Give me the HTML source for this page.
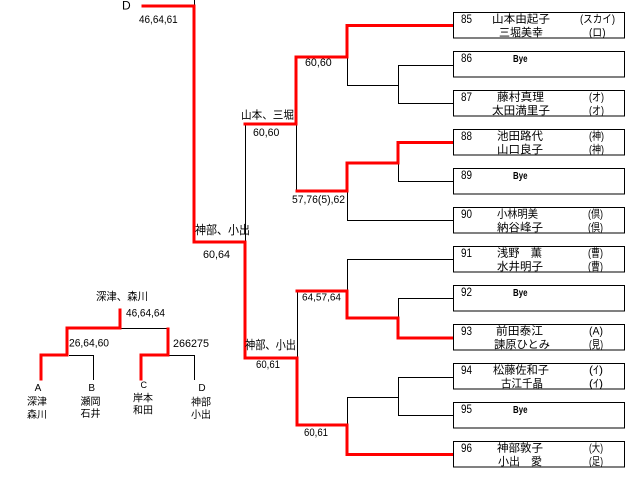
<!DOCTYPE html>
<html>
<head>
<meta charset="utf-8">
<style>
html,body{margin:0;padding:0;background:#fff;}
svg{display:block;}
text{font-family:"Liberation Sans","Noto Sans CJK JP",sans-serif;fill:#000;}
.j{font-family:"Liberation Sans","Noto Sans CJK JP",sans-serif;}
</style>
</head>
<body>
<svg width="640" height="482" viewBox="0 0 640 482" xmlns="http://www.w3.org/2000/svg">
<rect x="0" y="0" width="640" height="482" fill="#fff"/>

<!-- black connector lines -->
<g stroke="#000" stroke-width="1" fill="none" shape-rendering="crispEdges">
  <path d="M194.5,0 V6"/>
  <path d="M245.5,124 V242"/>
  <path d="M296.5,124 V191"/>
  <path d="M347.5,57 V85.5 H398"/>
  <path d="M398.5,65 V103.5"/>
  <path d="M398,65.5 H453"/>
  <path d="M398,103.5 H453"/>
  <path d="M398.5,163 V181.5 H453"/>
  <path d="M347.5,191 V220.5 H453"/>
  <path d="M297.5,291 V358"/>
  <path d="M347.5,291 V259.5 H453"/>
  <path d="M398.5,318 V298.5 H453"/>
  <path d="M347.5,425 V397.5 H398"/>
  <path d="M398.5,377 V416"/>
  <path d="M398,377.5 H453"/>
  <path d="M398,415.5 H453"/>
  <!-- left mini bracket -->
  <path d="M120,328.5 H168"/>
  <path d="M69,355.5 H93.5 V380"/>
  <path d="M168,355.5 H194.5 V380"/>
</g>

<!-- red winner lines -->
<g stroke="#ff0000" stroke-width="3" fill="none" stroke-linejoin="miter" stroke-linecap="square">
  <path d="M143,6 H194 V242 H245 V358 H297 V425 H347 V454.5 H452"/>
  <path d="M245,124 H296 V57 H347 V25.5 H452"/>
  <path d="M297,191 H347 V163 H398 V142.5 H452"/>
  <path d="M297,291 H347 V318 H398 V338 H452"/>
  <path d="M120,310 V328 H67 V355 H41 V379"/>
  <path d="M168,329 V355 H141 V379"/>
</g>

<!-- boxes -->
<g stroke="#000" stroke-width="1" fill="#fff" shape-rendering="crispEdges">
  <rect x="453.5" y="12.5" width="171" height="25.5"/>
  <rect x="453.5" y="51.5" width="171" height="25.5"/>
  <rect x="453.5" y="90.5" width="171" height="25.5"/>
  <rect x="453.5" y="129.5" width="171" height="25.5"/>
  <rect x="453.5" y="168.5" width="171" height="25.5"/>
  <rect x="453.5" y="207.5" width="171" height="25.5"/>
  <rect x="453.5" y="246.5" width="171" height="25.5"/>
  <rect x="453.5" y="285.5" width="171" height="25.5"/>
  <rect x="453.5" y="324.5" width="171" height="25.5"/>
  <rect x="453.5" y="363.5" width="171" height="25.5"/>
  <rect x="453.5" y="402.5" width="171" height="25.5"/>
  <rect x="453.5" y="441.5" width="171" height="25.5"/>
</g>

<!-- box numbers -->
<g font-size="12">
  <text x="461" y="23" textLength="11" lengthAdjust="spacingAndGlyphs">85</text>
  <text x="461" y="62" textLength="11" lengthAdjust="spacingAndGlyphs">86</text>
  <text x="461" y="101" textLength="11" lengthAdjust="spacingAndGlyphs">87</text>
  <text x="461" y="140" textLength="11" lengthAdjust="spacingAndGlyphs">88</text>
  <text x="461" y="179" textLength="11" lengthAdjust="spacingAndGlyphs">89</text>
  <text x="461" y="218" textLength="11" lengthAdjust="spacingAndGlyphs">90</text>
  <text x="461" y="257" textLength="11" lengthAdjust="spacingAndGlyphs">91</text>
  <text x="461" y="296" textLength="11" lengthAdjust="spacingAndGlyphs">92</text>
  <text x="461" y="335" textLength="11" lengthAdjust="spacingAndGlyphs">93</text>
  <text x="461" y="374" textLength="11" lengthAdjust="spacingAndGlyphs">94</text>
  <text x="461" y="413" textLength="11" lengthAdjust="spacingAndGlyphs">95</text>
  <text x="461" y="452" textLength="11" lengthAdjust="spacingAndGlyphs">96</text>
</g>

<!-- Bye -->
<g font-size="10" font-weight="bold">
  <text x="513" y="62" textLength="14.5" lengthAdjust="spacingAndGlyphs">Bye</text>
  <text x="513" y="179" textLength="14.5" lengthAdjust="spacingAndGlyphs">Bye</text>
  <text x="513" y="296" textLength="14.5" lengthAdjust="spacingAndGlyphs">Bye</text>
  <text x="513" y="413" textLength="14.5" lengthAdjust="spacingAndGlyphs">Bye</text>
</g>

<!-- names -->
<g font-size="11">
  <!-- 85 -->
  <text x="492" y="22.5" textLength="58" lengthAdjust="spacingAndGlyphs">山本由起子</text>
  <text x="499" y="36" textLength="44" lengthAdjust="spacingAndGlyphs">三堀美幸</text>
  <text x="580" y="22.5" textLength="35" lengthAdjust="spacingAndGlyphs">(スカイ)</text>
  <text x="589" y="36" textLength="16.5" lengthAdjust="spacingAndGlyphs">(ロ)</text>
  <!-- 87 -->
  <text x="497" y="100.5" textLength="47" lengthAdjust="spacingAndGlyphs">藤村真理</text>
  <text x="492" y="114" textLength="58" lengthAdjust="spacingAndGlyphs">太田満里子</text>
  <text x="589" y="100.5" textLength="15" lengthAdjust="spacingAndGlyphs">(オ)</text>
  <text x="589" y="114" textLength="15" lengthAdjust="spacingAndGlyphs">(オ)</text>
  <!-- 88 -->
  <text x="497" y="139.5" textLength="46" lengthAdjust="spacingAndGlyphs">池田路代</text>
  <text x="497" y="153" textLength="46" lengthAdjust="spacingAndGlyphs">山口良子</text>
  <text x="589" y="139.5" textLength="15" lengthAdjust="spacingAndGlyphs">(神)</text>
  <text x="589" y="153" textLength="15" lengthAdjust="spacingAndGlyphs">(神)</text>
  <!-- 90 -->
  <text x="497" y="217.5" textLength="41" lengthAdjust="spacingAndGlyphs">小林明美</text>
  <text x="497" y="231" textLength="46" lengthAdjust="spacingAndGlyphs">納谷峰子</text>
  <text x="588" y="217.5" textLength="15" lengthAdjust="spacingAndGlyphs">(倶)</text>
  <text x="588" y="231" textLength="15" lengthAdjust="spacingAndGlyphs">(倶)</text>
  <!-- 91 -->
  <text x="497" y="256.5" textLength="45" lengthAdjust="spacingAndGlyphs">浅野　薫</text>
  <text x="497" y="270" textLength="46" lengthAdjust="spacingAndGlyphs">水井明子</text>
  <text x="588" y="256.5" textLength="15" lengthAdjust="spacingAndGlyphs">(曹)</text>
  <text x="588" y="270" textLength="15" lengthAdjust="spacingAndGlyphs">(曹)</text>
  <!-- 93 -->
  <text x="496" y="334.5" textLength="47" lengthAdjust="spacingAndGlyphs">前田泰江</text>
  <text x="494" y="348" textLength="56" lengthAdjust="spacingAndGlyphs">諫原ひとみ</text>
  <text x="589" y="334.5" textLength="14" lengthAdjust="spacingAndGlyphs">(A)</text>
  <text x="589" y="348" textLength="14" lengthAdjust="spacingAndGlyphs">(見)</text>
  <!-- 94 -->
  <text x="493" y="373.5" textLength="56" lengthAdjust="spacingAndGlyphs">松藤佐和子</text>
  <text x="501" y="387" textLength="42" lengthAdjust="spacingAndGlyphs">古江千晶</text>
  <text x="589" y="373.5" textLength="14" lengthAdjust="spacingAndGlyphs">(ｲ)</text>
  <text x="589" y="387" textLength="14" lengthAdjust="spacingAndGlyphs">(ｲ)</text>
  <!-- 96 -->
  <text x="497" y="451.5" textLength="46" lengthAdjust="spacingAndGlyphs">神部敦子</text>
  <text x="498" y="465" textLength="44" lengthAdjust="spacingAndGlyphs">小出　愛</text>
  <text x="589" y="451.5" textLength="14" lengthAdjust="spacingAndGlyphs">(大)</text>
  <text x="589" y="465" textLength="14" lengthAdjust="spacingAndGlyphs">(足)</text>
</g>

<!-- bracket labels -->
<text x="122" y="9.5" font-size="12">D</text>
<g font-size="11">
  <text x="139" y="23" textLength="38.7" lengthAdjust="spacingAndGlyphs">46,64,61</text>
  <text x="305" y="66" textLength="26.7" lengthAdjust="spacingAndGlyphs">60,60</text>
  <text x="241" y="118.5" textLength="53" lengthAdjust="spacingAndGlyphs">山本、三堀</text>
  <text x="253" y="136" textLength="26.3" lengthAdjust="spacingAndGlyphs">60,60</text>
  <text x="292" y="203" textLength="53" lengthAdjust="spacingAndGlyphs">57,76(5),62</text>
  <text x="203" y="258" textLength="27" lengthAdjust="spacingAndGlyphs">60,64</text>
  <text x="256" y="368" textLength="24" lengthAdjust="spacingAndGlyphs">60,61</text>
  <text x="304" y="436" textLength="24" lengthAdjust="spacingAndGlyphs">60,61</text>
</g>
<text x="302" y="300.5" font-size="10" textLength="39" lengthAdjust="spacingAndGlyphs">64,57,64</text>
<g font-size="12">
  <text x="195" y="234" textLength="55" lengthAdjust="spacingAndGlyphs">神部、小出</text>
  <text x="245" y="349" textLength="51" lengthAdjust="spacingAndGlyphs">神部、小出</text>
</g>

<!-- left mini bracket labels -->
<g font-size="11">
  <text x="96" y="300" textLength="52" lengthAdjust="spacingAndGlyphs">深津、森川</text>
  <text x="126" y="316.7" textLength="39" lengthAdjust="spacingAndGlyphs">46,64,64</text>
  <text x="69" y="346.7" textLength="40" lengthAdjust="spacingAndGlyphs">26,64,60</text>
  <text x="173" y="347" textLength="36" lengthAdjust="spacingAndGlyphs">266275</text>
</g>
<g font-size="10" text-anchor="middle">
  <text x="38" y="391">A</text>
  <text x="91.7" y="391">B</text>
  <text x="143.7" y="388" font-size="9">C</text>
  <text x="202" y="391">D</text>
  <text x="37" y="405">深津</text>
  <text x="37" y="418">森川</text>
  <text x="90.5" y="405">瀬岡</text>
  <text x="90.5" y="417">石井</text>
  <text x="143" y="401.5">岸本</text>
  <text x="143" y="413.5">和田</text>
  <text x="201" y="405.5">神部</text>
  <text x="201" y="418">小出</text>
</g>
</svg>
</body>
</html>
